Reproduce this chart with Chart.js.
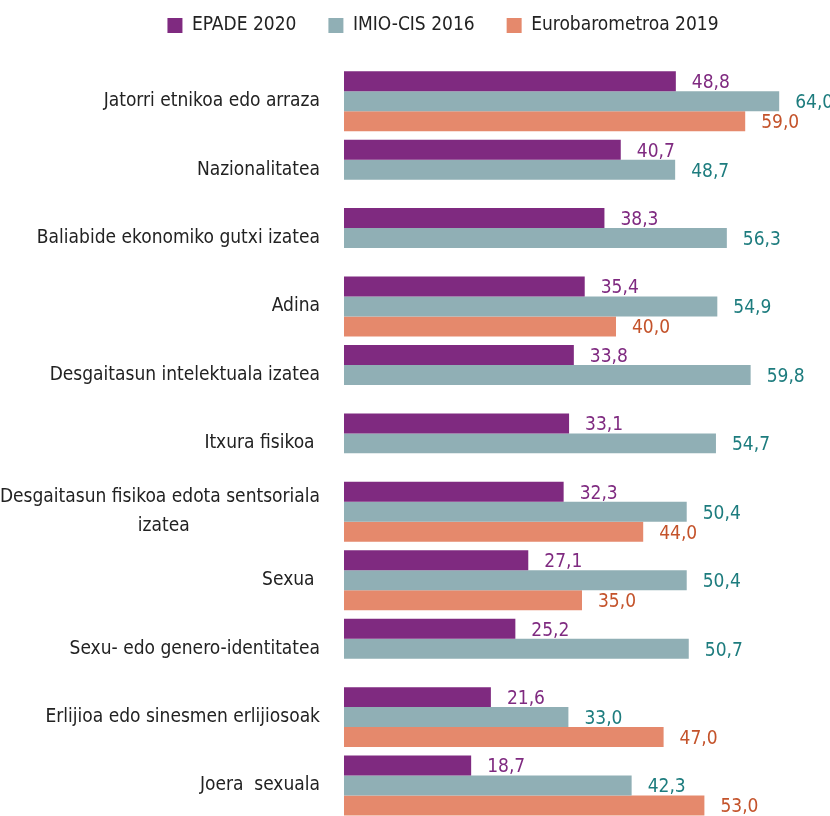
<!DOCTYPE html>
<html>
<head>
<meta charset="utf-8">
<script src="https://cdn.jsdelivr.net/npm/chart.js@4.4.1/dist/chart.umd.min.js"></script>
<style>
  html, body { margin: 0; padding: 0; background: #fff; overflow: hidden; }
  #wrap { width: 830px; height: 858px; position: relative; }
</style>
</head>
<body>
<div id="wrap"><canvas id="grafica"></canvas></div>
<script>
// Kategoriak
const kategoriak = [
  "Jatorri etnikoa edo arraza",
  "Nazionalitatea",
  "Baliabide ekonomiko gutxi izatea",
  "Adina",
  "Desgaitasun intelektuala izatea",
  "Itxura fisikoa ",
  ["Desgaitasun fisikoa edota sentsoriala", "izatea" + "\u00A0".repeat(24)],
  "Sexua ",
  "Sexu- edo genero-identitatea",
  "Erlijioa edo sinesmen erlijiosoak",
  "Joera  sexuala"
];

// Serieak
const epade2020 = [48.8, 40.7, 38.3, 35.4, 33.8, 33.1, 32.3, 27.1, 25.2, 21.6, 18.7];
const imioCis2016 = [64.0, 48.7, 56.3, 54.9, 59.8, 54.7, 50.4, 50.4, 50.7, 33.0, 42.3];
const eurobarometroa2019 = [59.0, null, null, 40.0, null, null, 44.0, 35.0, null, 47.0, 53.0];

const FONT = "'DejaVu Sans Condensed', 'DejaVu Sans', sans-serif";

// Balioen etiketak barren ondoan
const balioEtiketak = {
  id: "balioEtiketak",
  afterDatasetsDraw(chart) {
    const ctx = chart.ctx;
    ctx.save();
    ctx.font = "19px " + FONT;
    ctx.textAlign = "left";
    ctx.textBaseline = "middle";
    chart.data.datasets.forEach((ds, i) => {
      const meta = chart.getDatasetMeta(i);
      meta.data.forEach((bar, j) => {
        const v = ds.data[j];
        if (v === null || v === undefined) return;
        ctx.fillStyle = ds.etiketaKolorea;
        ctx.fillText(v.toFixed(1).replace(".", ","), bar.x + 16, bar.y + 2);
      });
    });
    ctx.restore();
  }
};

// Legendaren altuera eta kokapena
const legendaTartea = {
  id: "legendaTartea",
  beforeInit(chart) {
    const fit = chart.legend.fit;
    chart.legend.fit = function () {
      fit.bind(chart.legend)();
      this.height = 63;
    };
  },
  afterLayout(chart) {
    const l = chart.legend;
    l.left += 33;
    l.right += 33;
    l.top -= 20;
    l.bottom -= 20;
  }
};

new Chart(document.getElementById("grafica"), {
  type: "bar",
  data: {
    labels: kategoriak,
    datasets: [
      { label: "EPADE 2020", data: epade2020, backgroundColor: "#7f2a80", etiketaKolorea: "#7f2a80" },
      { label: "IMIO-CIS 2016", data: imioCis2016, backgroundColor: "#90afb5", etiketaKolorea: "#1d7c7e" },
      { label: "Eurobarometroa 2019", data: eurobarometroa2019, backgroundColor: "#e5896c", etiketaKolorea: "#c4532b" }
    ]
  },
  options: {
    indexAxis: "y",
    responsive: true,
    maintainAspectRatio: false,
    animation: false,
    layout: { padding: { top: 4, right: 10, left: 0, bottom: 0 } },
    datasets: {
      bar: { categoryPercentage: 0.876, barPercentage: 1.0, borderWidth: 0 }
    },
    scales: {
      x: { display: false, min: 0, max: 70 },
      y: {
        grid: { display: false, drawTicks: false },
        border: { display: false },
        afterFit: s => { s.width = 344; },
        ticks: {
          color: "#222",
          padding: 24,
          font: { family: FONT, size: 19, lineHeight: 1.5 }
        }
      }
    },
    plugins: {
      tooltip: { enabled: false },
      legend: {
        position: "top",
        labels: {
          boxWidth: 15,
          boxHeight: 15,
          padding: 32,
          color: "#222",
          font: { family: FONT, size: 19 }
        }
      }
    }
  },
  plugins: [balioEtiketak, legendaTartea]
});
</script>
</body>
</html>
